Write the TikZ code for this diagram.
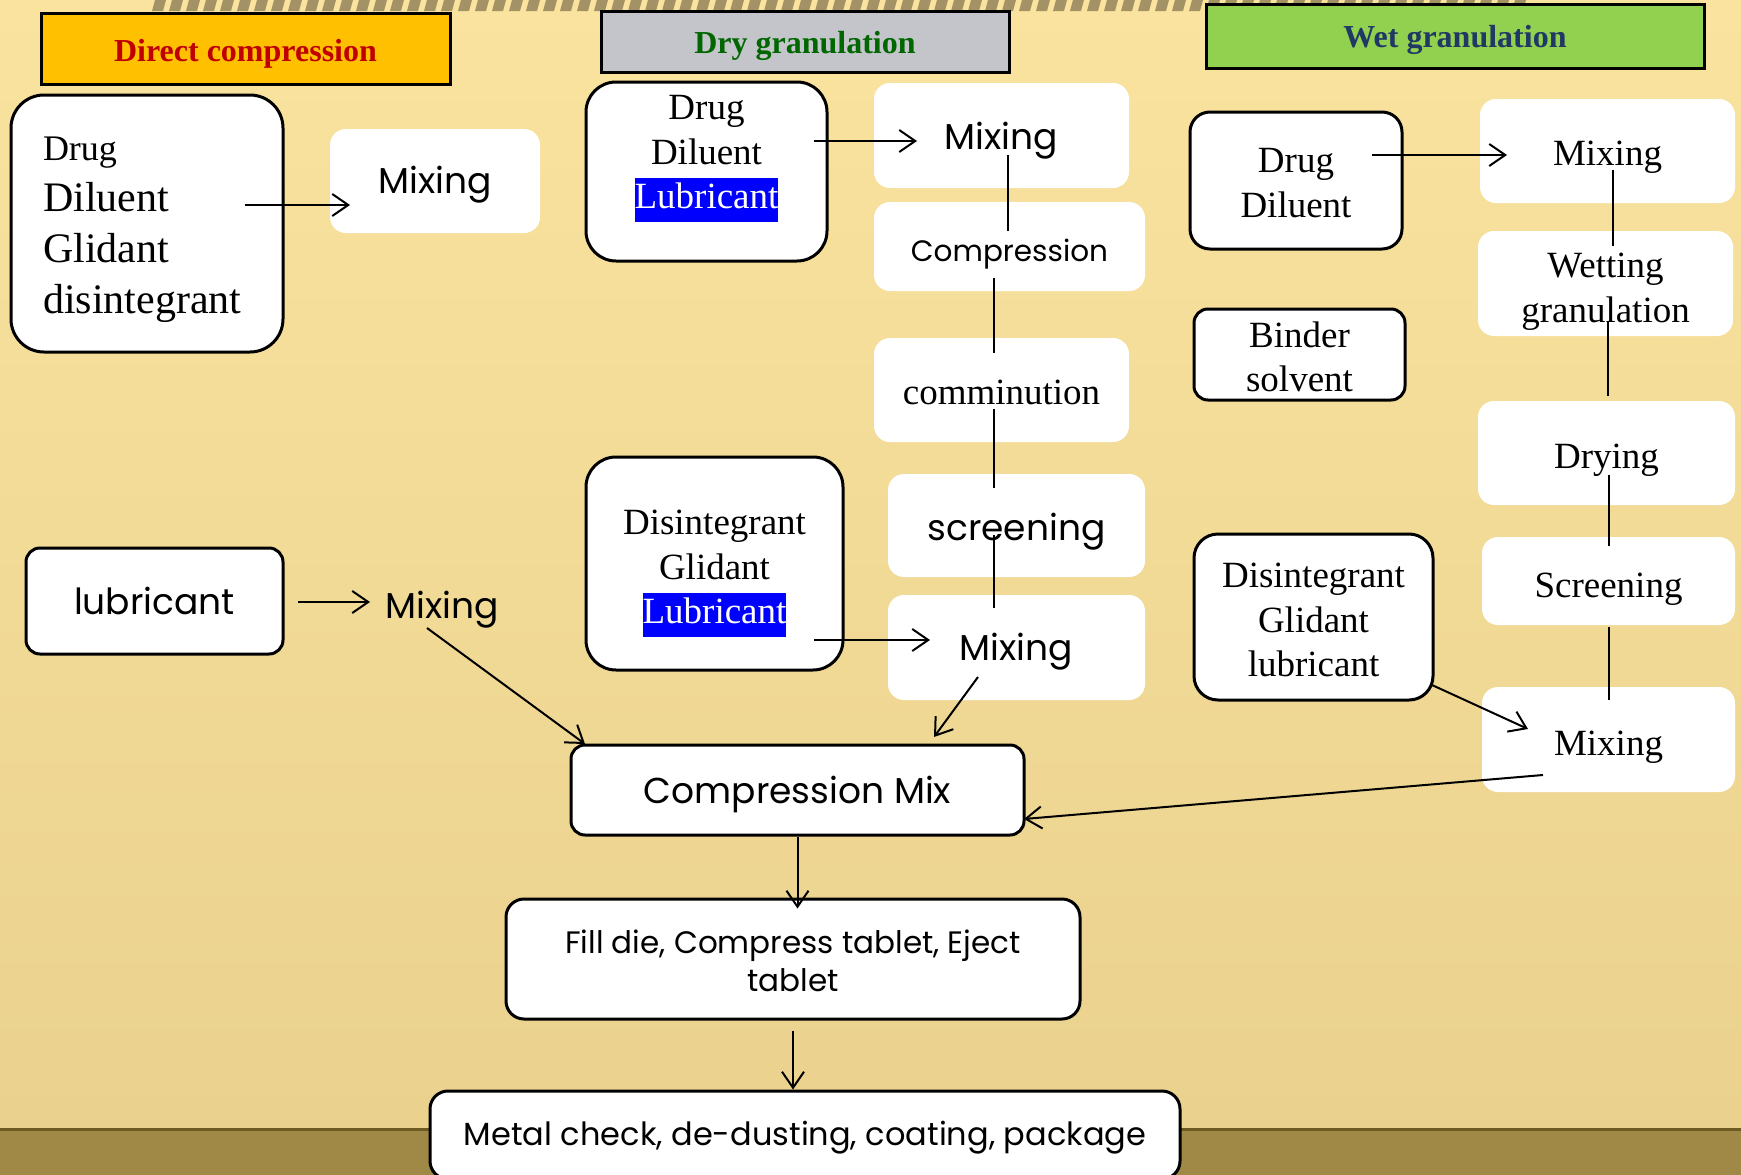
\documentclass[tikz,border=0pt]{standalone}
\usepackage{fontspec}
\setmainfont{Liberation Serif}
\newfontfamily\gothic{Poppins}
\usepackage{xcolor}
\usepackage{tikz}
\usetikzlibrary{shapes,arrows.meta}

\definecolor{bgtop}{HTML}{F9E39E}
\definecolor{bgbot}{HTML}{EAD28E}
\definecolor{band}{HTML}{A08946}
\definecolor{bandedge}{HTML}{6E5B22}
\definecolor{stripe}{HTML}{A39266}
\definecolor{dcfill}{HTML}{FFC000}
\definecolor{dcred}{HTML}{C00000}
\definecolor{dryfill}{HTML}{C4C5CA}
\definecolor{drygreen}{HTML}{006600}
\definecolor{wetfill}{HTML}{92D050}
\definecolor{wetblue}{HTML}{1F3864}

\newcommand{\bluemark}[1]{{\setlength{\fboxsep}{0pt}\colorbox{blue}{\strut\color{white}#1}}}

\begin{document}
\begin{tikzpicture}[x=1pt, y=-1pt,
    header/.style={rectangle, draw, line width=3pt, inner sep=0pt, font=\fontsize{32}{36}\selectfont\bfseries},
    ingredient/.style={rectangle, draw, fill=white, line width=3pt, inner sep=0pt, align=center, font=\fontsize{37}{44.5}\selectfont},
    stage/.style={rectangle, fill=white, rounded corners=16pt, inner sep=0pt, align=center, font=\fontsize{37}{44.5}\selectfont},
    gothic/.style={font=\gothic\fontsize{36}{42}\selectfont},
    textat/.style 2 args={text height=#1, text depth=#2},
    line/.style={draw, line width=2pt},
    flow/.style={line, -{Straight Barb[length=16pt, width=22pt, line width=2pt]}}]

    \useasboundingbox (0,0) rectangle (1741,1175);

    % Background
    \shade[top color=bgtop, bottom color=bgbot] (0,0) rectangle (1741,1128);
    \fill[band] (0,1128) rectangle (1741,1175);
    \draw[bandedge, line width=3pt] (0,1129.5) -- (1741,1129.5);
    \foreach \i in {0,...,80}
        \fill[stripe] ({155+17*\i},0) -- ++(11,0) -- ++(-3,11) -- ++(-11,0) -- cycle;

    % Headers
    \node[header, fill=dcfill, text=dcred, minimum width=409pt, minimum height=71pt, textat={33.1pt}{6.9pt}] (hdirect) at (245.5,48.5) {Direct compression};
    \node[header, fill=dryfill, text=drygreen, minimum width=408pt, minimum height=61pt, textat={31.9pt}{8.1pt}] (hdry) at (805,41.5) {Dry granulation};
    \node[header, fill=wetfill, text=wetblue, minimum width=498pt, minimum height=64pt, textat={31.9pt}{8.1pt}] (hwet) at (1455,36) {Wet granulation};

    % Direct compression
    \node[ingredient, rounded corners=33pt, minimum width=272pt, minimum height=257pt, align=left, text width=208pt, font=\fontsize{42}{51}\selectfont, textat={37.1pt}{162.9pt}] (dcmaterial) at (147,223.5) {{\fontsize{36}{51}\selectfont Drug}\\Diluent\\Glidant\\disintegrant};
    \node[stage, gothic, minimum width=210pt, minimum height=104pt, textat={32.7pt}{7.3pt}] (dcmix) at (435,181) {Mixing};
    \node[ingredient, gothic, rounded corners=14pt, minimum width=257pt, minimum height=106pt, textat={33.7pt}{6.3pt}] (dclube) at (154.5,601) {lubricant};
    \node[gothic, inner sep=0pt, textat={32.7pt}{7.3pt}] (dcmixlube) at (442,606) {Mixing};

    % Dry granulation
    \node[ingredient, rounded corners=30pt, minimum width=241pt, minimum height=179pt] (drymaterial) at (706.5,171.5) {Drug\\Diluent\\\bluemark{Lubricant}\\[-6pt]\mbox{}};
    \node[stage, gothic, minimum width=255pt, minimum height=105pt, textat={33.9pt}{6.1pt}] (drymix) at (1001.5,135.5) {Mixing};
    \node[stage, gothic, font=\gothic\fontsize{29.5}{34}\selectfont, minimum width=271pt, minimum height=89pt, textat={35pt}{5pt}] (drycompress) at (1009.5,246.5) {Compression};
    \node[stage, minimum width=255pt, minimum height=104pt, textat={34.8pt}{5.2pt}] (drycomminute) at (1001.5,390) {comminution};
    \node[stage, gothic, minimum width=257pt, minimum height=103pt, textat={35pt}{5pt}] (dryscreen) at (1016.5,525.5) {screening};
    \node[stage, gothic, minimum width=257pt, minimum height=105pt, textat={32.7pt}{7.3pt}] (drymixfinal) at (1016.5,647.5) {Mixing};
    \node[ingredient, rounded corners=30pt, minimum width=257pt, minimum height=213pt, textat={160.2pt}{39.8pt}] (dryextra) at (714.5,563.5) {Disintegrant\\Glidant\\\bluemark{Lubricant}};

    % Wet granulation
    \node[ingredient, rounded corners=20pt, minimum width=212pt, minimum height=137pt, textat={96.7pt}{23.3pt}] (wetmaterial) at (1296,180.5) {Drug\\Diluent};
    \node[ingredient, rounded corners=14pt, minimum width=211pt, minimum height=91pt, textat={77.1pt}{2.9pt}] (wetbinder) at (1299.5,354.5) {Binder\\solvent};
    \node[ingredient, rounded corners=24pt, minimum width=239pt, minimum height=166pt, textat={139.7pt}{20.3pt}] (wetextra) at (1313.5,617) {Disintegrant\\Glidant\\lubricant};
    \node[stage, minimum width=255pt, minimum height=104pt, textat={34.2pt}{5.8pt}] (wetmix) at (1607.5,151) {Mixing};
    \node[stage, minimum width=255pt, minimum height=105pt, textat={88.7pt}{11.3pt}] (wetgranulate) at (1605.5,283.5) {Wetting\\granulation};
    \node[stage, minimum width=257pt, minimum height=104pt, textat={35.3pt}{4.7pt}] (wetdry) at (1606.5,453) {Drying};
    \node[stage, minimum width=253pt, minimum height=88pt, textat={36.4pt}{3.6pt}] (wetscreen) at (1608.5,581) {Screening};
    \node[stage, minimum width=253pt, minimum height=105pt, textat={36.4pt}{3.6pt}] (wetmixfinal) at (1608.5,739.5) {Mixing};

    % Common steps
    \node[ingredient, gothic, rounded corners=14pt, minimum width=453pt, minimum height=90pt, textat={33.9pt}{6.1pt}] (compmix) at (797.5,790) {Compression Mix};
    \node[ingredient, gothic, font=\gothic\fontsize{31}{38}\selectfont, rounded corners=18pt, minimum width=574pt, minimum height=120pt, textat={82.3pt}{17.7pt}] (tableting) at (793,959) {Fill die, Compress tablet, Eject\\tablet};
    \node[ingredient, gothic, font=\gothic\fontsize{32}{38}\selectfont, rounded corners=18pt, minimum width=750pt, minimum height=88pt, textat={30.8pt}{9.2pt}] (finishing) at (805,1135) {Metal check, de-dusting, coating, package};

    % Direct compression flow
    \draw[flow] ([shift={(98,-18.5)}]dcmaterial.center) -- ([shift={(-85,24)}]dcmix.center);
    \draw[flow] ([shift={(143.5,1)}]dclube.center) -- ([shift={(-72,-4)}]dcmixlube.center);
    \draw[flow] ([shift={(-15,22)}]dcmixlube.center) -- ([shift={(-212.5,-46)}]compmix.center);

    % Dry granulation flow
    \draw[flow] ([shift={(107.5,-30.5)}]drymaterial.center) -- ([shift={(-84.5,5.5)}]drymix.center);
    \draw[line] ([shift={(6.5,19.5)}]drymix.center) -- ([shift={(-1.5,-15.5)}]drycompress.center);
    \draw[line] ([shift={(-15.5,31.5)}]drycompress.center) -- ([shift={(-7.5,-37)}]drycomminute.center);
    \draw[line] ([shift={(-7.5,19)}]drycomminute.center) -- ([shift={(-22.5,-37.5)}]dryscreen.center);
    \draw[line] ([shift={(-22.5,9.5)}]dryscreen.center) -- ([shift={(-22.5,-39.5)}]drymixfinal.center);
    \draw[flow] ([shift={(99.5,76.5)}]dryextra.center) -- ([shift={(-86.5,-7.5)}]drymixfinal.center);
    \draw[flow] ([shift={(-38.5,29.5)}]drymixfinal.center) -- ([shift={(136.5,-53)}]compmix.center);

    % Wet granulation flow
    \draw[flow] ([shift={(76,-25.5)}]wetmaterial.center) -- ([shift={(-100.5,4)}]wetmix.center);
    \draw[line] ([shift={(5.5,19)}]wetmix.center) -- ([shift={(7.5,-37.5)}]wetgranulate.center);
    \draw[line] ([shift={(2.5,38.5)}]wetgranulate.center) -- ([shift={(1.5,-57)}]wetdry.center);
    \draw[line] ([shift={(2.5,22)}]wetdry.center) -- ([shift={(0.5,-35)}]wetscreen.center);
    \draw[line] ([shift={(0.5,46)}]wetscreen.center) -- ([shift={(0.5,-39.5)}]wetmixfinal.center);
    \draw[flow] ([shift={(118.5,68)}]wetextra.center) -- ([shift={(-80.5,-10.5)}]wetmixfinal.center);
    \draw[flow] ([shift={(-65.5,35.5)}]wetmixfinal.center) -- ([shift={(226.5,29)}]compmix.center);

    % Tableting
    \draw[flow] (compmix.south) -- ([yshift=-11pt]compmix.south |- tableting.north);
    \draw[flow] ([yshift=-10pt]tableting.south) -- (tableting.south |- finishing.north);

\end{tikzpicture}
\end{document}
